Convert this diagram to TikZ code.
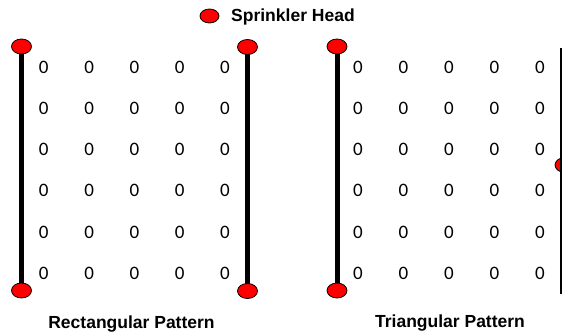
\documentclass[tikz,border=0pt]{standalone}
\usepackage{fontspec}
\setmainfont{Liberation Sans}
\newfontfamily\digitfont{Carlito}
\usetikzlibrary{shapes.geometric,backgrounds}
\tikzset{
  head/.style={ellipse, draw=black, line width=0.8pt, fill=red,
               minimum width=20pt, minimum height=15pt, inner sep=0pt},
  pipe/.style={line width=5pt, draw=black},
  thinpipe/.style={line width=2.5pt, draw=black},
  cell/.style={inner sep=0pt, font=\digitfont\fontsize{19}{19}\selectfont},
  caption/.style={inner sep=0pt, font=\bfseries\fontsize{17.5}{20}\selectfont},
}
\begin{document}
\begin{tikzpicture}[x=1pt, y=-1pt]
  \useasboundingbox (0,0) rectangle (562,334);

  % legend
  \node[head, minimum width=19pt, minimum height=14pt] (lh) at (209.5,16) {};
  \node[caption, anchor=west] (lt) at (231,16.5) {Sprinkler Head};

  % rectangular pattern: heads at both ends of each branch line
  \node[head] (ra1) at (21.5,46.5) {};
  \node[head] (ra2) at (21.5,290.5) {};
  \node[head] (rb1) at (247.5,47) {};
  \node[head] (rb2) at (247.5,291) {};

  % triangular pattern: left branch line with end heads
  \node[head] (ta1) at (337,46.5) {};
  \node[head] (ta2) at (337,290.5) {};

  \begin{scope}[on background layer]
    \draw[pipe] (ra1.center) -- (ra2.center);
    \draw[pipe] (rb1.center) -- (rb2.center);
    \draw[pipe] (ta1.center) -- (ta2.center);
  \end{scope}

  % triangular pattern: right branch line with a mid-line head
  \node[head] (tb) at (565,165) {};
  \coordinate (tb1) at (561.5,48);
  \coordinate (tb2) at (561.5,294);
  \draw[thinpipe] (tb1) -- (tb2);

  % coverage grids
  \foreach \j in {0,...,5} {
    \foreach \i in {0,...,4} {
      \node[cell] (r-\i-\j) at ({43.8+45.3*\i},{67.5+41.1*\j}) {0};
      \node[cell] (t-\i-\j) at ({358+45.5*\i},{67.5+41.1*\j}) {0};
    }
  }

  % captions
  \node[caption] (rc) at (131.5,324) {Rectangular Pattern};
  \node[caption] (tc) at (450,323) {Triangular Pattern};
\end{tikzpicture}
\end{document}
